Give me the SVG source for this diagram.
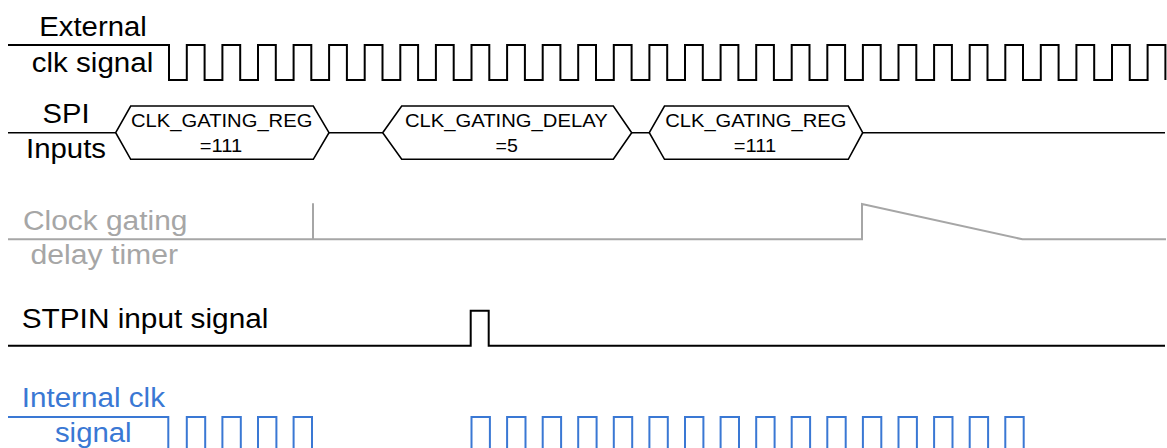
<svg xmlns="http://www.w3.org/2000/svg" width="1167" height="448" viewBox="0 0 1167 448">
<style>
  .lbl { font-family: "Liberation Sans", Arial, sans-serif; font-size: 27px; fill: #000; }
  .hx { font-family: "Liberation Sans", Arial, sans-serif; font-size: 17.7px; fill: #000; text-anchor: middle; }
  .mid { text-anchor: middle; }
  .gray { fill: #a6a6a6; }
  .blue { fill: #3a78d4; }
  .wave { fill: none; stroke: #000; stroke-width: 2; }
  .hex { fill: none; stroke: #000; stroke-width: 1.6; stroke-linejoin: miter; }
  .gwave { fill: none; stroke: #a6a6a6; stroke-width: 2; }
  .bwave { fill: none; stroke: #3a78d4; stroke-width: 2; }
</style>
<rect width="1167" height="448" fill="#fff"/>

<g id="external-clk">
  <text class="lbl mid" x="93" y="35.5" textLength="107.5" lengthAdjust="spacingAndGlyphs">External</text>
  <text class="lbl mid" x="92.5" y="71.5" textLength="121.6" lengthAdjust="spacingAndGlyphs">clk signal</text>
  <path class="wave" d="M8 45 H169 V80 H186.8 V45 H204.6 V80 H222.4 V45 H240.2 V80 H258 V45 H275.8 V80 H293.6 V45 H311.3 V80 H329.1 V45 H346.9 V80 H364.7 V45 H382.5 V80 H400.3 V45 H418.1 V80 H435.9 V45 H453.7 V80 H471.5 V45 H489.3 V80 H507.1 V45 H524.9 V80 H542.7 V45 H560.4 V80 H578.2 V45 H596 V80 H613.8 V45 H631.6 V80 H649.4 V45 H667.2 V80 H685 V45 H702.8 V80 H720.6 V45 H738.4 V80 H756.2 V45 H773.9 V80 H791.7 V45 H809.5 V80 H827.3 V45 H845.1 V80 H862.9 V45 H880.7 V80 H898.5 V45 H916.3 V80 H934.1 V45 H951.9 V80 H969.7 V45 H987.5 V80 H1005.3 V45 H1023 V80 H1040.8 V45 H1058.6 V80 H1076.4 V45 H1094.2 V80 H1112 V45 H1129.8 V80 H1147.6 V45 H1165.4 V80"/>
</g>

<g id="spi-inputs">
  <text class="lbl mid" x="66" y="123.3" textLength="47" lengthAdjust="spacingAndGlyphs">SPI</text>
  <text class="lbl mid" x="66" y="158.3" textLength="80" lengthAdjust="spacingAndGlyphs">Inputs</text>
  <path class="hex" d="M8 132.7 H115.7 M329 132.7 H382.7 M631.7 132.7 H649.3 M862.7 132.7 H1165"/>
  <g id="spi-reg1">
    <polygon class="hex" points="115.7,132.7 130.7,106 313.3,106 329,132.7 313.3,159.3 130.7,159.3"/>
    <text class="hx" x="221.7" y="126.7" textLength="181.3" lengthAdjust="spacingAndGlyphs">CLK_GATING_REG</text>
    <text class="hx" x="221" y="151.7" textLength="42.3" lengthAdjust="spacingAndGlyphs">=111</text>
  </g>
  <g id="spi-delay">
    <polygon class="hex" points="382.7,132.7 401.7,106 613.3,106 631.7,132.7 613.3,159.3 401.7,159.3"/>
    <text class="hx" x="506.3" y="126.7" textLength="202.7" lengthAdjust="spacingAndGlyphs">CLK_GATING_DELAY</text>
    <text class="hx" x="506.7" y="151.7" textLength="22.3" lengthAdjust="spacingAndGlyphs">=5</text>
  </g>
  <g id="spi-reg2">
    <polygon class="hex" points="649.3,132.7 664.5,106 848.3,106 862.7,132.7 848.3,159.3 664.5,159.3"/>
    <text class="hx" x="755.8" y="126.7" textLength="181.3" lengthAdjust="spacingAndGlyphs">CLK_GATING_REG</text>
    <text class="hx" x="755" y="151.7" textLength="42.3" lengthAdjust="spacingAndGlyphs">=111</text>
  </g>
</g>

<g id="delay-timer">
  <text class="lbl mid gray" x="105.2" y="229.5" textLength="164.5" lengthAdjust="spacingAndGlyphs">Clock gating</text>
  <text class="lbl mid gray" x="104.3" y="264" textLength="147.4" lengthAdjust="spacingAndGlyphs">delay timer</text>
  <path class="gwave" d="M8 239.3 H862 V204 L1022.4 239.3 H1166 M313 239.3 V203.3"/>
</g>

<g id="stpin">
  <text class="lbl" x="21.7" y="327.7" textLength="246.7" lengthAdjust="spacingAndGlyphs">STPIN input signal</text>
  <path class="wave" stroke-width="2.5" d="M8 345.7 H470.7 V310.7 H488.7 V345.7 H1165"/>
</g>

<g id="internal-clk">
  <text class="lbl blue" x="21.7" y="406.7" textLength="143.3" lengthAdjust="spacingAndGlyphs">Internal clk</text>
  <text class="lbl mid blue" x="93.3" y="441.7" textLength="76.7" lengthAdjust="spacingAndGlyphs">signal</text>
  <path class="bwave" d="M8 417 H168.3 V448
    M186.8 448 V417 H205.2 V448
    M222.4 448 V417 H240.8 V448
    M258 448 V417 H276.4 V448
    M293.6 448 V417 H312 V448
    M471.5 448 V417 H489.9 V448
    M507.1 448 V417 H525.5 V448
    M542.7 448 V417 H561.1 V448
    M578.2 448 V417 H596.6 V448
    M613.8 448 V417 H632.2 V448
    M649.4 448 V417 H667.8 V448
    M685 448 V417 H703.4 V448
    M720.6 448 V417 H739 V448
    M756.2 448 V417 H774.6 V448
    M791.7 448 V417 H810.1 V448
    M827.3 448 V417 H845.7 V448
    M862.9 448 V417 H881.3 V448
    M898.5 448 V417 H916.9 V448
    M934.1 448 V417 H952.5 V448
    M969.7 448 V417 H988.1 V448
    M1005.3 448 V417 H1023.7 V448"/>
</g>
</svg>
